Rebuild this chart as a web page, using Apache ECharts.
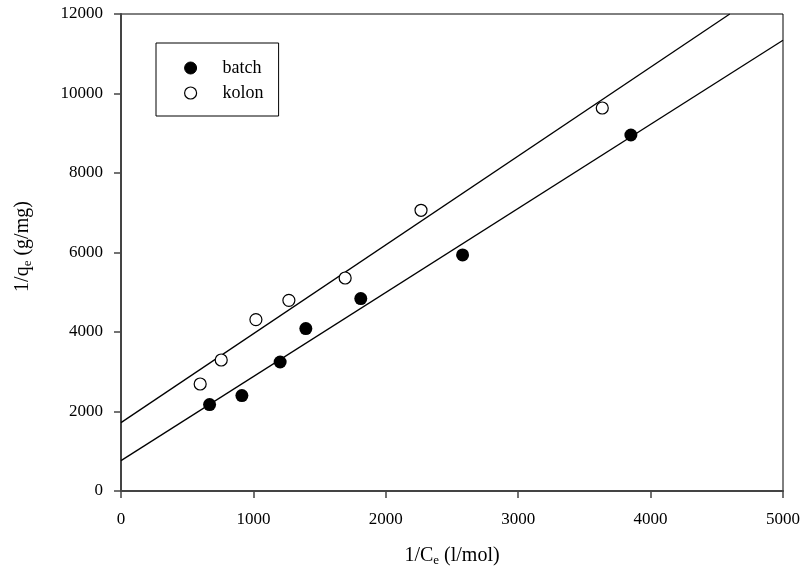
<!DOCTYPE html>
<html>
<head>
<meta charset="utf-8">
<script src="https://cdn.jsdelivr.net/npm/echarts@6/dist/echarts.min.js"></script>
<style>
  html, body { margin: 0; padding: 0; background: #fff; }
  #chart { width: 806px; height: 578px; }
</style>
</head>
<body>
<div id="chart"></div>
<script>
// Batch measurements: 1/Ce (l/mol) vs 1/qe (g/mg)
const batchX = [669, 913, 1202, 1396, 1811, 2580, 3851];
const batchY = [2174, 2400, 3245, 4085, 4840, 5940, 8956];

// Column (kolon) measurements
const kolonX = [598, 757, 1019, 1268, 1693, 2266, 3635];
const kolonY = [2692, 3296, 4312, 4797, 5358, 7062, 9635];

// Fitted straight lines, given by their end points
const batchFitX = [0, 5000];
const batchFitY = [765, 11338];
const kolonFitX = [0, 4598];
const kolonFitY = [1721, 12000];

// Axis ticks
const xTicks = [0, 1000, 2000, 3000, 4000, 5000];
const yTicks = [0, 2000, 4000, 6000, 8000, 10000, 12000];

const pairs = (xs, ys) => xs.map((x, i) => [x, ys[i]]);

const FONT = '"Liberation Serif", "Times New Roman", serif';
const axisLineStyle = { color: '#444', width: 2 };
const plain = v => String(v);

const subRich = { sub: { fontFamily: FONT, fontSize: 13, color: '#000', verticalAlign: 'bottom', padding: [9, 0, 0, 0] } };

const chart = echarts.init(document.getElementById('chart'), null, { renderer: 'canvas' });

chart.setOption({
  backgroundColor: '#fff',
  animation: false,
  textStyle: { fontFamily: FONT, color: '#000' },
  grid: {
    left: 121, right: 23, top: 14, bottom: 87,
    show: true, borderColor: '#000', borderWidth: 1, backgroundColor: 'transparent'
  },
  legend: {
    left: 156, top: 43,
    orient: 'vertical',
    itemWidth: 12, itemHeight: 12, itemGap: 7,
    padding: [16, 15, 14, 28],
    borderColor: '#000', borderWidth: 1,
    textStyle: { fontFamily: FONT, fontSize: 18, color: '#000', padding: [0, 0, 0, 21] },
    data: [
      { name: 'batch', icon: 'circle', itemStyle: { color: '#000', borderColor: '#000', borderWidth: 1 } },
      { name: 'kolon', icon: 'circle', itemStyle: { color: '#fff', borderColor: '#000', borderWidth: 1.2 } }
    ]
  },
  xAxis: {
    type: 'value',
    min: xTicks[0], max: xTicks[xTicks.length - 1], interval: 1000,
    splitLine: { show: false },
    axisLine: { lineStyle: axisLineStyle },
    axisTick: { length: 7, lineStyle: { color: '#444', width: 1.5 } },
    axisLabel: { fontFamily: FONT, fontSize: 17, color: '#000', margin: 20, formatter: plain },
    name: '1/C{sub|e} (l/mol)',
    nameLocation: 'middle',
    nameGap: 54,
    nameTextStyle: { fontFamily: FONT, fontSize: 20, color: '#000', rich: subRich }
  },
  yAxis: {
    type: 'value',
    min: yTicks[0], max: yTicks[yTicks.length - 1], interval: 2000,
    splitLine: { show: false },
    axisLine: { lineStyle: axisLineStyle },
    axisTick: { length: 7, lineStyle: { color: '#444', width: 1.5 } },
    axisLabel: { fontFamily: FONT, fontSize: 17, color: '#000', margin: 18, formatter: plain },
    name: '1/q{sub|e} (g/mg)',
    nameLocation: 'middle',
    nameGap: 87,
    nameTextStyle: { fontFamily: FONT, fontSize: 20, color: '#000', padding: [0, 0, 0, 12], rich: subRich }
  },
  series: [
    {
      name: 'batch fit',
      type: 'line',
      data: pairs(batchFitX, batchFitY),
      showSymbol: false,
      lineStyle: { color: '#000', width: 1.3 },
      silent: true, z: 1
    },
    {
      name: 'kolon fit',
      type: 'line',
      data: pairs(kolonFitX, kolonFitY),
      showSymbol: false,
      lineStyle: { color: '#000', width: 1.3 },
      silent: true, z: 1
    },
    {
      name: 'batch',
      type: 'scatter',
      data: pairs(batchX, batchY),
      symbol: 'circle',
      symbolSize: 13,
      itemStyle: { color: '#000', borderColor: '#000', borderWidth: 0, opacity: 1 },
      z: 3
    },
    {
      name: 'kolon',
      type: 'scatter',
      data: pairs(kolonX, kolonY),
      symbol: 'circle',
      symbolSize: 12,
      itemStyle: { color: '#fff', borderColor: '#000', borderWidth: 1.2, opacity: 1 },
      z: 3
    }
  ]
});
</script>
</body>
</html>
